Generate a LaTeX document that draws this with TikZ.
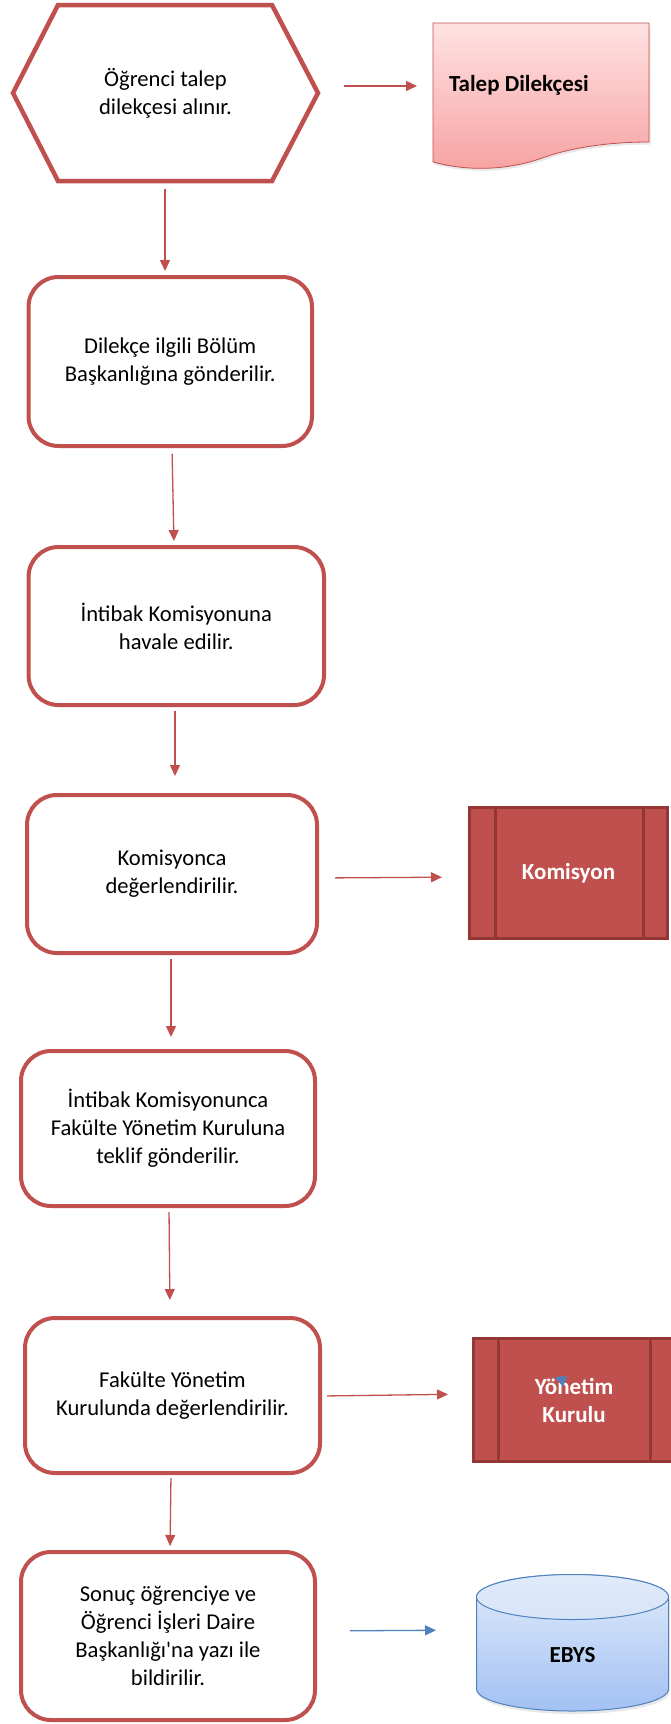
\documentclass[tikz,border=0pt]{standalone}
\usepackage{fontspec}
\setmainfont{Carlito}
\usetikzlibrary{arrows.meta,shadows}

\definecolor{accred}{HTML}{C0504D}
\definecolor{darkred}{HTML}{943634}
\definecolor{docTop}{HTML}{FFE2E2}
\definecolor{docBot}{HTML}{F7A2A2}
\definecolor{accblue}{HTML}{4F81BD}
\definecolor{cylTop}{HTML}{E0EBFA}
\definecolor{cylBot}{HTML}{A3C1F3}

\newcommand\flowtext{\fontsize{22.6}{28}\selectfont}
\newcommand\flowbold{\fontsize{23}{28}\selectfont\bfseries}

\begin{document}
\begin{tikzpicture}[x=1pt,y=-1pt,
  stepbox/.style={draw=accred, line width=4pt, rounded corners=30pt, fill=white,
    align=center, font=\flowtext, inner sep=0pt},
  geom/.style={inner sep=0pt, outer sep=0pt},
  procbox/.style={draw=darkred, fill=accred, line width=3pt, text=white,
    font=\flowbold, align=center, inner sep=0pt, outer sep=0pt},
  flow/.style={draw=accred, line width=1.3pt, -{Triangle[length=11pt,width=10pt]}},
  blueflow/.style={draw=accblue, line width=1.3pt, -{Triangle[length=11pt,width=10pt]}},
]
\useasboundingbox (0,0) rectangle (670,1724);

% start: hexagon
\node[geom, minimum width=305pt, minimum height=176pt, align=center, font=\flowtext]
  (hex) at (165.5,93) {Öğrenci talep\\dilekçesi alınır.};
\draw[accred, line width=4.5pt, line join=miter]
  (hex.west) -- ([xshift=45pt]hex.north west) -- ([xshift=-46pt]hex.north east)
  -- (hex.east) -- ([xshift=-46pt]hex.south east) -- ([xshift=45pt]hex.south west) -- cycle;

% document: petition
\node[geom, minimum width=216pt, minimum height=139pt] (doc) at (541,92.5) {};
\draw[draw=accred, line width=0.8pt, top color=docTop, bottom color=docBot,
      drop shadow={opacity=0.18, shadow xshift=1.5pt, shadow yshift=-2.5pt}]
  (433,23) -- (649,23) -- (649,142)
  .. controls (620,142) and (580,145) .. (545,157)
  .. controls (510,170) and (470,172) .. (433,162) -- cycle;
\node[geom, anchor=west, font=\flowbold] (doctext) at ([xshift=16pt,yshift=7pt]doc.west) {Talep Dilekçesi};

% process steps
\node[stepbox, minimum width=283.5pt, minimum height=169pt] (b2) at (170.25,361.5)
  {Dilekçe ilgili Bölüm\\Başkanlığına gönderilir.};
\node[stepbox, minimum width=295.5pt, minimum height=158pt] (b3) at (176.25,626)
  {İntibak Komisyonuna\\havale edilir.};
\node[stepbox, minimum width=290pt, minimum height=158pt] (b4) at (172,874)
  {Komisyonca\\değerlendirilir.};
\node[stepbox, minimum width=294pt, minimum height=155pt] (b5) at (168,1128.5)
  {İntibak Komisyonunca\\Fakülte Yönetim Kuruluna\\teklif gönderilir.};
\node[stepbox, minimum width=295pt, minimum height=155pt] (b6) at (172.5,1395.5)
  {Fakülte Yönetim\\Kurulunda değerlendirilir.};
\node[stepbox, minimum width=294pt, minimum height=168pt] (b7) at (168,1636)
  {Sonuç öğrenciye ve\\Öğrenci İşleri Daire\\Başkanlığı\textquotesingle na yazı ile\\bildirilir.};

% predefined processes
\node[procbox, minimum width=198pt, minimum height=131pt] (kom) at (568.5,873) {Komisyon};
\draw[darkred, line width=3pt]
  ([xshift=25.5pt]kom.north west) -- ([xshift=25.5pt]kom.south west)
  ([xshift=-24.5pt]kom.north east) -- ([xshift=-24.5pt]kom.south east);

\node[procbox, minimum width=201pt, minimum height=123pt] (yk) at (574,1400) {Yönetim\\Kurulu};
\draw[darkred, line width=3pt]
  ([xshift=24.5pt]yk.north west) -- ([xshift=24.5pt]yk.south west)
  ([xshift=-24.5pt]yk.north east) -- ([xshift=-24.5pt]yk.south east);
\fill[accblue] (555,1377) -- (567,1376) -- (563,1387) -- cycle;

% database: EBYS
\draw[draw=accblue, line width=1pt, top color=cylTop, bottom color=cylBot,
      drop shadow={opacity=0.18, shadow xshift=1pt, shadow yshift=-3pt}]
  (476.5,1597) -- (476.5,1689)
  arc[start angle=180, end angle=360, x radius=96pt, y radius=22pt]
  -- (668.5,1597)
  arc[start angle=0, end angle=180, x radius=96pt, y radius=22.5pt] -- cycle;
\draw[draw=accblue, line width=1pt, top color=cylTop, bottom color=cylTop!85!cylBot]
  (572.5,1597) ellipse [x radius=96pt, y radius=22.5pt];
\node[geom, font=\flowbold] (ebys) at (572.5,1655) {EBYS};
\coordinate (ebysL) at (476,1630);

% vertical flow
\draw[flow, shorten <=8pt, shorten >=4pt] ([xshift=-0.5pt]hex.south) -- ([xshift=-5.25pt]b2.north);
\draw[flow, shorten <=6pt, shorten >=4pt] ([xshift=1.75pt]b2.south) -- ([xshift=-2.25pt]b3.north);
\draw[flow, shorten <=4pt, shorten >=17pt] ([xshift=-1.25pt]b3.south) -- ([xshift=3pt]b4.north);
\draw[flow, shorten <=4pt, shorten >=12pt] ([xshift=-1pt]b4.south) -- ([xshift=3pt]b5.north);
\draw[flow, shorten <=4pt, shorten >=16pt] ([xshift=1pt]b5.south) -- ([xshift=-2.5pt]b6.north);
\draw[flow, shorten <=3pt, shorten >=4pt] ([xshift=-1.5pt]b6.south) -- ([xshift=2pt]b7.north);

% side flow
\draw[flow, shorten <=26pt, shorten >=16pt] ([yshift=7pt]hex.east) -- ([yshift=6.5pt]doc.west);
\draw[flow, shorten <=16pt, shorten >=27.5pt] ([yshift=-4pt]b4.east) -- ([yshift=-4pt]kom.west);
\draw[flow, shorten <=5pt, shorten >=25.5pt] ([yshift=-0.5pt]b6.east) -- ([yshift=6pt]yk.west);
\draw[blueflow, shorten <=33pt, shorten >=40pt] ([yshift=5pt]b7.east) -- (ebysL);
\end{tikzpicture}
\end{document}
